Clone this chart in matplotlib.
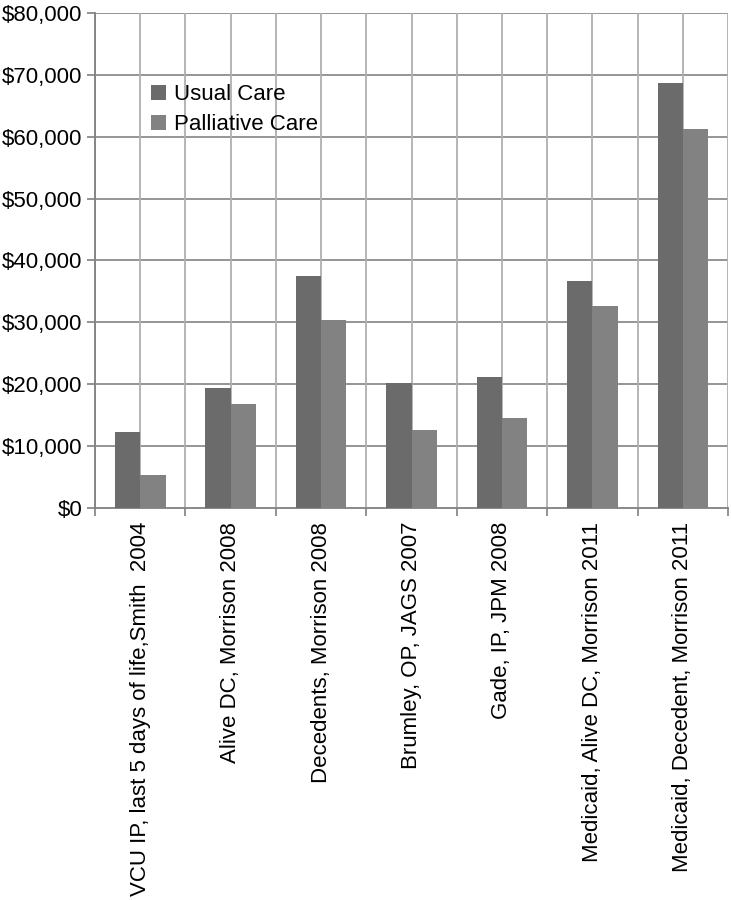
import matplotlib
matplotlib.use("Agg")
import matplotlib.pyplot as plt
import numpy as np
from matplotlib.ticker import FuncFormatter, MultipleLocator

categories = [
    "VCU IP, last 5 days of life,Smith  2004",
    "Alive DC, Morrison 2008",
    "Decedents, Morrison 2008",
    "Brumley, OP, JAGS 2007",
    "Gade, IP, JPM 2008",
    "Medicaid, Alive DC, Morrison 2011",
    "Medicaid, Decedent, Morrison 2011",
]
usual_care = [12300, 19400, 37450, 20200, 21150, 36700, 68750]
palliative_care = [5300, 16750, 30400, 12600, 14550, 32650, 61200]

plt.rcParams['font.family'] = ['Liberation Sans', 'DejaVu Sans']
FS = 16

fig = plt.figure(figsize=(7.31, 9.0), dpi=100)
ax = fig.add_axes([0.130, 0.4356, 0.866, 0.5500])

x = np.arange(len(categories))
w = 0.28
ax.bar(x - w/2, usual_care, w, color="#6b6b6b", label="Usual Care", zorder=3)
ax.bar(x + w/2, palliative_care, w, color="#828282", label="Palliative Care", zorder=3)

ax.set_xlim(-0.5, len(categories) - 0.5)
ax.set_ylim(0, 80000)
ax.yaxis.set_major_locator(MultipleLocator(10000))
ax.yaxis.set_major_formatter(FuncFormatter(lambda v, p: "${:,.0f}".format(v)))

# gridlines
for yv in np.arange(10000, 80001, 10000):
    ax.axhline(yv, color="#8c8c8c", lw=1.3, zorder=1)
for xv in np.arange(-0.5, len(categories), 0.5):
    ax.axvline(xv, color="#b0b0b0", lw=1.3, zorder=1)

ax.set_xticks(np.arange(-0.5, len(categories), 1.0))
ax.set_xticklabels([])
ax.set_xticks(x, minor=True)
ax.set_xticklabels(categories, minor=True, rotation=90, fontsize=FS)
ax.tick_params(axis='x', which='minor', length=0, pad=10)
ax.tick_params(axis='x', which='major', length=6, color="#808080", width=1.2)
ax.tick_params(axis='y', length=6, color="#808080", width=1.2, labelsize=FS, pad=3)

for s in ['top', 'right']:
    ax.spines[s].set_visible(False)
ax.spines['left'].set_color("#808080")
ax.spines['bottom'].set_color("#808080")
ax.spines['left'].set_linewidth(1.3)
ax.spines['bottom'].set_linewidth(1.3)

leg = ax.legend(loc='upper left', bbox_to_anchor=(0.064, 0.887), frameon=False,
                fontsize=FS, handlelength=0.65, handleheight=0.65,
                handletextpad=0.4, labelspacing=0.4, borderpad=0.2)

fig.savefig("out.png", dpi=100)
